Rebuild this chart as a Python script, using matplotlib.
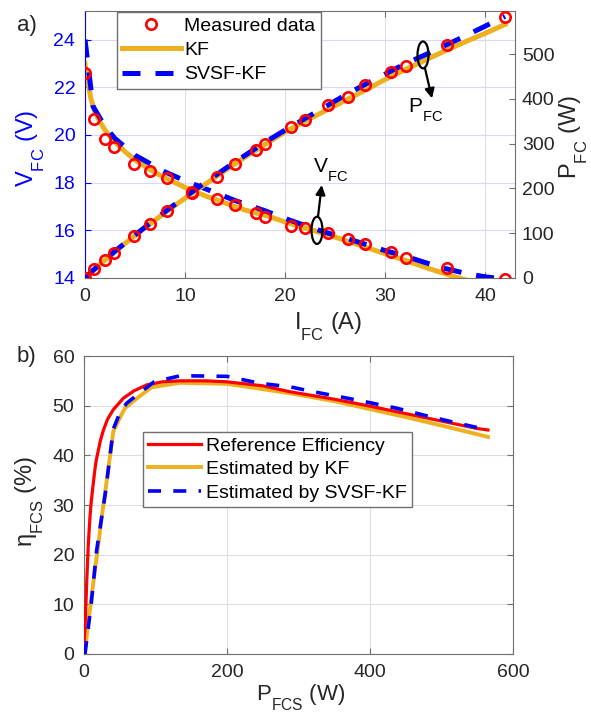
import matplotlib
matplotlib.use('Agg')
import matplotlib.pyplot as plt
import matplotlib._mathtext as _mt
from matplotlib.patches import Ellipse

plt.rcParams['font.family'] = ['Liberation Sans', 'DejaVu Sans']
plt.rcParams['mathtext.default'] = 'regular'
# MATLAB-style subscripts sit lower than mathtext's default
_mt.FontConstantsBase.sub1 = 0.85

# ---- panel a) measured data ----
i_meas = [0, 0.9, 2.0, 2.9, 4.9, 6.5, 8.2, 10.7, 13.2, 15.0, 17.1, 18.0, 20.6,
          22.0, 24.3, 26.3, 28.0, 30.6, 32.1, 36.2, 42.0]
v_meas = [22.6, 20.65, 19.85, 19.5, 18.8, 18.5, 18.2, 17.6, 17.3, 17.05, 16.72,
          16.57, 16.18, 16.08, 15.9, 15.65, 15.42, 15.08, 14.82, 14.4, 13.95]
p_meas = [0, 19, 40, 56, 94, 120, 149, 189, 226, 254, 285, 299, 336, 353, 386,
          405, 431, 460, 474, 520, 583]

# KF estimate
i_kf = [0, 0.3, 0.6, 1.0, 1.5, 2.0, 3.0, 4.0, 5.0, 6.5, 8.0, 10.0, 12.0, 14.0,
        16.0, 18.5, 20.0, 22.0, 24.0, 26.0, 28.0, 30.0, 32.0, 34.5, 37.0, 39.0, 42.0]
v_kf = [23.0, 22.2, 21.5, 20.95, 20.55, 20.2, 19.7, 19.3, 18.95, 18.55, 18.2,
        17.8, 17.45, 17.15, 16.85, 16.57, 16.35, 16.1, 15.85, 15.58, 15.3, 15.02,
        14.74, 14.38, 14.05, 13.8, 13.4]
i_kf_p = [0, 2, 4, 6, 8, 10, 12, 14, 16, 18, 20, 22, 24, 26, 28, 30, 32, 34, 36,
          38, 40, 42]
p_kf = [0, 40, 77, 112, 146, 178, 209, 240, 270, 298, 326, 350, 373, 396, 419,
        443, 465, 486, 507, 527, 546, 566]

# SVSF-KF estimate
i_svsf = [0, 0.8, 2.0, 3.0, 5.0, 8.0, 10.0, 12.0, 15.0, 18.0, 20.0, 22.0, 24.0,
          26.0, 28.0, 30.0, 32.0, 34.0, 36.0, 38.0, 40.0, 42.0]
v_svsf = [24.0, 21.2, 20.35, 19.85, 19.15, 18.45, 18.08, 17.75, 17.25, 16.82,
          16.5, 16.2, 15.92, 15.68, 15.42, 15.15, 14.92, 14.65, 14.4, 14.2, 14.05, 13.95]
p_svsf = [0, 17, 41, 60, 96, 148, 181, 213, 259, 303, 330, 356, 382, 408, 432,
          455, 478, 498, 519, 540, 562, 584]

# ---- panel b) efficiency ----
p_ref = [0, 2, 3.7, 6, 8.4, 10, 13, 15.4, 17, 20, 23, 27, 33, 41, 55, 70, 88,
         110, 134, 170, 200, 250, 288, 350, 400, 450, 500, 530, 550, 565]
eta_ref = [1.8, 7, 14.2, 22, 27.7, 30.5, 34.4, 37.3, 38.9, 41.0, 43.0, 45.0,
           47.3, 49.2, 51.5, 53.0, 54.2, 54.8, 55.0, 55.0, 54.8, 54.0, 52.8,
           51.3, 49.9, 48.4, 46.9, 46.0, 45.4, 45.1]
p_est_kf = [2, 10, 20, 24.7, 30, 41, 50, 57.3, 75, 94.6, 134, 200, 288, 350, 400,
            450, 500, 540, 565]
eta_est_kf = [1.5, 11, 22, 27.5, 33, 44.8, 47.5, 49.5, 51.6, 53.7, 54.6, 54.4,
              52.5, 50.9, 49.3, 47.7, 46.0, 44.6, 43.7]
p_est_svsf = [1.4, 10, 17.7, 30, 41, 50, 59.7, 80, 98, 134, 150, 200, 246, 288,
              320.7, 358, 400, 437, 475, 513, 565]
eta_est_svsf = [0, 10, 20.9, 32.5, 45.3, 48.5, 50.5, 52.8, 54.8, 56.0, 56.0, 55.9,
                54.5, 53.8, 52.8, 51.8, 50.6, 49.5, 48.1, 46.8, 45.1]

RED = '#ff0000'
ORANGE = '#edb120'
BLUE = '#0000ff'
TXT = '#262626'
SPINE = '#707070'
GRID = '#dedede'

fig = plt.figure(figsize=(5.91, 7.13), dpi=100)

# ================= panel a =================
ax = fig.add_axes([85 / 591, 1 - 278 / 713, 430 / 591, 267 / 713])
ax2 = ax.twinx()

l_meas, = ax.plot(i_meas, v_meas, 'o', ms=7.5, mfc='none', mec=RED, mew=1.9,
                  label='Measured data', zorder=3)
l_kf, = ax.plot(i_kf, v_kf, color=ORANGE, lw=3.6, label='KF', zorder=2)
l_svsf, = ax.plot(i_svsf, v_svsf, color=BLUE, lw=3.6, dashes=(3.6, 3.0),
                  label='SVSF-KF', zorder=2.5)

ax2.plot(i_kf_p, p_kf, color=ORANGE, lw=3.6, zorder=2)
ax2.plot(i_svsf, p_svsf, color=BLUE, lw=3.6, dashes=(3.6, 3.0), zorder=2.5)
ax2.plot(i_meas, p_meas, 'o', ms=7.5, mfc='none', mec=RED, mew=1.9, zorder=3)

ax.set_xlim(0, 43)
ax.set_ylim(14, 25.2)
ax2.set_ylim(0, 596)
ax.set_xticks([0, 10, 20, 30, 40])
ax.set_yticks([14, 16, 18, 20, 22, 24])
ax2.set_yticks([0, 100, 200, 300, 400, 500])

ax.set_axisbelow(True)
ax.grid(True, axis='x', color=GRID, lw=0.8)
ax.grid(True, axis='y', color='#d8d8ff', lw=0.8)

for s in ['top', 'bottom']:
    ax.spines[s].set_color(SPINE)
ax.spines['left'].set_color(BLUE)
ax.spines['right'].set_visible(False)
for s in ['top', 'bottom', 'left']:
    ax2.spines[s].set_visible(False)
ax2.spines['right'].set_color(SPINE)

ax.tick_params(axis='x', direction='in', length=4, top=True, labelsize=14,
               colors=SPINE, labelcolor=TXT, pad=7)
ax.tick_params(axis='y', direction='in', length=4, labelsize=14, colors=BLUE,
               labelcolor=BLUE, pad=7)
ax2.tick_params(axis='y', direction='in', length=4, labelsize=14, colors=SPINE,
                labelcolor=TXT, pad=5)

ax.set_xlabel('I$_{FC}$ (A)', fontsize=17, color=TXT)
ax.xaxis.set_label_coords(0.565, -0.125)
ax.set_ylabel('V$_{FC}$ (V)', fontsize=17, color=BLUE)
ax.yaxis.set_label_coords(-0.088, 0.487)
ax2.set_ylabel('P$_{FC}$ (W)', fontsize=17, color=TXT)
ax2.yaxis.set_label_coords(1.100, 0.528)

# ellipse markers and arrows
ax.add_patch(Ellipse((23.2, 16.0), 1.1, 1.14, fill=False, ec='k', lw=1.6, zorder=5))
ax.annotate('', xy=(23.67, 17.9), xytext=(23.3, 16.57),
            arrowprops=dict(arrowstyle='-|>', color='k', lw=1.6,
                            mutation_scale=14, shrinkA=0, shrinkB=0), zorder=5)
ax.text(22.8, 18.4, 'V$_{FC}$', fontsize=15, color='k', va='baseline')

ax2.add_patch(Ellipse((33.8, 498), 1.1, 60, fill=False, ec='k', lw=1.6, zorder=5))
ax2.annotate('', xy=(34.7, 401), xytext=(34.0, 468),
             arrowprops=dict(arrowstyle='-|>', color='k', lw=1.6,
                             mutation_scale=14, shrinkA=0, shrinkB=0), zorder=5)
ax2.text(32.3, 370, 'P$_{FC}$', fontsize=15, color='k', va='baseline')

leg = ax2.legend(handles=[l_meas, l_kf, l_svsf], loc='upper left',
                 bbox_to_anchor=(0.0744, 0.996), borderaxespad=0, fontsize=14,
                 handlelength=3.0, handletextpad=0.2, borderpad=0.27,
                 labelspacing=0.34, fancybox=False, framealpha=1,
                 edgecolor=SPINE)
leg.get_frame().set_linewidth(1.0)

fig.text(17 / 591, 1 - 31 / 713, 'a)', fontsize=16, color=TXT, va='baseline')

# ================= panel b =================
bx = fig.add_axes([84 / 591, 1 - 654 / 713, 429 / 591, 298 / 713])
bx.plot(p_ref, eta_ref, color=RED, lw=2.3, label='Reference Efficiency', zorder=3)
bx.plot(p_est_kf, eta_est_kf, color=ORANGE, lw=2.8, label='Estimated by KF', zorder=2)
bx.plot(p_est_svsf, eta_est_svsf, color=BLUE, lw=2.6, dashes=(3.6, 3.4),
        label='Estimated by SVSF-KF', zorder=4)

bx.set_xlim(0, 600)
bx.set_ylim(0, 60)
bx.set_xticks([0, 200, 400, 600])
bx.set_yticks([0, 10, 20, 30, 40, 50, 60])
bx.set_axisbelow(True)
bx.grid(True, color=GRID, lw=0.8)
for s in bx.spines.values():
    s.set_color(SPINE)
bx.tick_params(direction='in', length=4, top=True, right=True, labelsize=14,
               colors=SPINE, labelcolor=TXT, pad=7)

bx.set_xlabel('P$_{FCS}$ (W)', fontsize=16, color=TXT)
bx.xaxis.set_label_coords(0.506, -0.098)
bx.set_ylabel('η$_{FCS}$ (%)', fontsize=17, color=TXT)
bx.yaxis.set_label_coords(-0.089, 0.513)

leg2 = bx.legend(loc='upper left', bbox_to_anchor=(0.1375, 0.745),
                 borderaxespad=0, fontsize=14, handlelength=2.7,
                 handletextpad=0.28, borderpad=0.26, labelspacing=0.31,
                 fancybox=False, framealpha=1, edgecolor=SPINE)
leg2.get_frame().set_linewidth(1.0)

fig.text(17 / 591, 1 - 362 / 713, 'b)', fontsize=16, color=TXT, va='baseline')

fig.savefig('out.png', dpi=100)
